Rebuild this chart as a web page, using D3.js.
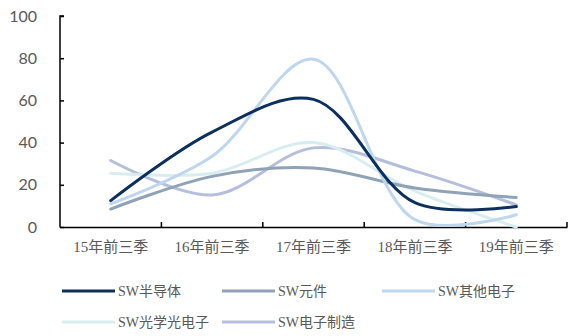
<!DOCTYPE html>
<html><head><meta charset="utf-8">
<script src="https://cdn.jsdelivr.net/npm/d3@7"></script>
<style>body{margin:0;background:#fff}svg{display:block}</style>
</head><body>
<svg id="c" width="568" height="336"></svg>
<script>
const categories = ["15年前三季","16年前三季","17年前三季","18年前三季","19年前三季"];
const seriesNames = ["SW半导体","SW元件","SW其他电子","SW光学光电子","SW电子制造"];
const s1 = [12.5, 45, 60.5, 11.5, 9.7];
const s2 = [8.5, 24, 28, 18.5, 14];
const s3 = [11, 33.5, 79.5, 3.5, 5.8];
const s4 = [25.5, 25.5, 40, 17, 0];
const s5 = [31.5, 15.2, 37.5, 26.5, 10.5];
const yTicks = [0,20,40,60,80,100];
const colors = ["#0c2f5e","#8fa2b6","#bed7ef","#d8edf0","#b5bfdc"];
const data = [s1,s2,s3,s4,s5];

const svg = d3.select("#c");
const x = d3.scaleBand().domain(categories).range([60,567]);
const y = d3.scaleLinear().domain([0,100]).range([227,16]);
const serif = "'Liberation Serif','Times New Roman','Noto Sans CJK SC',serif";

// y axis
const ya = svg.append("g").attr("transform","translate(60,0)")
  .call(d3.axisRight(y).tickValues(yTicks).tickSize(4).tickFormat(d3.format("d")));
ya.select(".domain").attr("stroke","#000").attr("stroke-width",1.5).attr("d","M4,16H0V227.5");
ya.selectAll(".tick line").attr("stroke","#000").attr("stroke-width",1.5);
ya.selectAll(".tick text").attr("x",-23).attr("text-anchor","end")
  .attr("fill","#595959").style("font-family","Lato, 'Liberation Sans', sans-serif").style("font-size","16px");

// x axis
const xa = svg.append("g").attr("transform","translate(0,227)")
  .call(d3.axisTop(x).tickSize(0));
xa.select(".domain").attr("stroke","#000").attr("stroke-width",1.5);
xa.selectAll(".tick text").remove();
const bounds = categories.map(c=>x(c)).concat([x.range()[1]]).slice(1);
xa.selectAll(".bt").data(bounds).enter().append("line")
  .attr("x1",d=>d).attr("x2",d=>d).attr("y1",0).attr("y2",-5)
  .attr("stroke","#000").attr("stroke-width",1.5);
svg.append("g").selectAll("text").data(categories).enter().append("text")
  .attr("x",d=>x(d)+x.bandwidth()/2).attr("y",252).attr("text-anchor","middle")
  .attr("fill","#595959").style("font-family",serif).style("font-size","15px")
  .text(d=>d);

// lines
const line = d3.line().x((d,i)=>x(categories[i])+x.bandwidth()/2).y(d=>y(d))
  .curve(d3.curveCatmullRom.alpha(0.5));
const order = [4,3,1,2,0];
order.forEach(k=>{
  svg.append("path").attr("d",line(data[k])).attr("fill","none")
    .attr("stroke",colors[k]).attr("stroke-width",3).attr("stroke-linecap","round");
});

// legend
const legPos = [[62,291],[222,291],[382,291],[62,322],[222,322]];
seriesNames.forEach((n,k)=>{
  const [lx,ly] = legPos[k];
  svg.append("line").attr("x1",lx).attr("x2",lx+53).attr("y1",ly).attr("y2",ly)
    .attr("stroke",colors[k]).attr("stroke-width",3);
  svg.append("text").attr("x",lx+56).attr("y",ly+5).attr("fill","#595959")
    .style("font-family",serif).style("font-size","14px").text(n);
});
</script>
</body></html>
